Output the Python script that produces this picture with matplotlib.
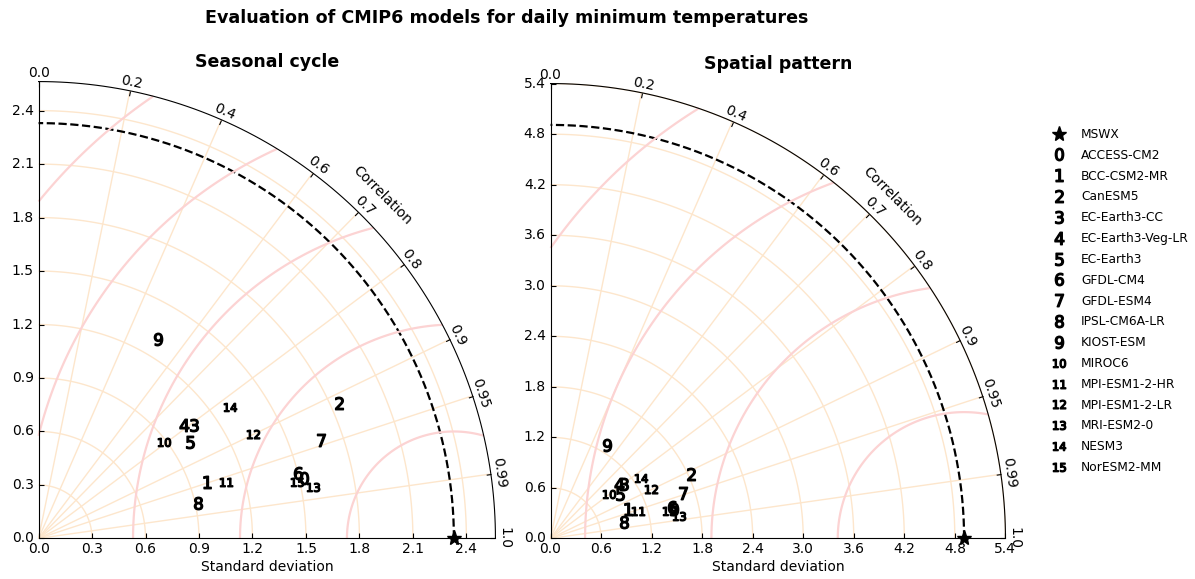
import numpy as np
import matplotlib
matplotlib.use("Agg")
import matplotlib.pyplot as plt
from matplotlib.projections import PolarAxes
import mpl_toolkits.axisartist.floating_axes as FA
import mpl_toolkits.axisartist.grid_finder as GF

# ---------------- data ----------------
models = ["ACCESS-CM2", "BCC-CSM2-MR", "CanESM5", "EC-Earth3-CC", "EC-Earth3-Veg-LR",
          "EC-Earth3", "GFDL-CM4", "GFDL-ESM4", "IPSL-CM6A-LR", "KIOST-ESM", "MIROC6",
          "MPI-ESM1-2-HR", "MPI-ESM1-2-LR", "MRI-ESM2-0", "NESM3", "NorESM2-MM"]
ref_label = "MSWX"

seasonal_ref_std = 2.33
seasonal_std = [1.530, 0.996, 1.847, 1.078, 1.033, 1.006, 1.502, 1.676,
                0.915, 1.304, 0.890, 1.098, 1.339, 1.568, 1.302, 1.486]
seasonal_corr = [0.975, 0.948, 0.912, 0.807, 0.788, 0.842, 0.970, 0.944,
                 0.976, 0.515, 0.793, 0.957, 0.899, 0.983, 0.824, 0.977]

spatial_ref_std = 4.91
spatial_std = [1.501, 0.987, 1.841, 1.083, 1.045, 0.986, 1.487, 1.658,
               0.900, 1.302, 0.870, 1.092, 1.326, 1.554, 1.289, 1.448]
spatial_corr = [0.973, 0.937, 0.909, 0.800, 0.783, 0.842, 0.968, 0.945,
                0.975, 0.519, 0.791, 0.956, 0.895, 0.985, 0.829, 0.974]

corr_ticks = [0, 0.2, 0.4, 0.6, 0.7, 0.8, 0.9, 0.95, 0.99, 1]
seasonal_std_ticks = [0.0, 0.3, 0.6, 0.9, 1.2, 1.5, 1.8, 2.1, 2.4]
spatial_std_ticks = [0.0, 0.6, 1.2, 1.8, 2.4, 3.0, 3.6, 4.2, 4.8, 5.4]
seasonal_rms_levels = [0.6, 1.2, 1.8, 2.4, 3.0]
spatial_rms_levels = [1.5, 3.0, 4.5, 6.0]

W, H = 1195, 579
fig = plt.figure(figsize=(W / 100, H / 100), dpi=100)

GRID_COLOR = "#fde6cc"
RMS_COLOR = "#fcd3d3"


def taylor(rect, refstd, std_ticks, stds, corrs, levels, title):
    tr = PolarAxes.PolarTransform()
    rlocs = np.array(corr_ticks)
    tlocs = np.arccos(rlocs)
    gl1 = GF.FixedLocator(tlocs)
    tf1 = GF.DictFormatter(dict(zip(tlocs, map(str, rlocs))))
    slocs = np.array(std_ticks)
    gl2 = GF.FixedLocator(slocs)
    tf2 = GF.DictFormatter(dict(zip(slocs, ["%.1f" % v for v in slocs])))
    tmax = np.pi / 2
    smax = 1.1 * refstd
    gh = FA.GridHelperCurveLinear(tr, extremes=(0, tmax, 0, smax),
                                  grid_locator1=gl1, tick_formatter1=tf1,
                                  grid_locator2=gl2, tick_formatter2=tf2)
    ax = FA.FloatingAxes(fig, rect, grid_helper=gh)
    fig.add_axes(ax)
    ax.axis["top"].set_axis_direction("bottom")
    ax.axis["top"].toggle(ticklabels=True, label=True)
    ax.axis["top"].major_ticklabels.set_axis_direction("top")
    ax.axis["top"].label.set_axis_direction("top")
    ax.axis["top"].label.set_text("Correlation")
    ax.axis["left"].set_axis_direction("bottom")
    ax.axis["left"].label.set_text("Standard deviation")
    ax.axis["right"].set_axis_direction("top")
    ax.axis["right"].toggle(ticklabels=True)
    ax.axis["right"].major_ticklabels.set_axis_direction("left")
    ax.axis["bottom"].set_visible(False)
    ax.grid(True, color=GRID_COLOR, lw=1.0)
    ax.set_title(title, fontsize=12.5, fontweight="bold", pad=7)

    aux = ax.get_aux_axes(tr)
    star, = aux.plot([0], [refstd], "k*", ls="", ms=11, label=ref_label,
                     clip_on=False, zorder=5)
    t = np.linspace(0, tmax, 200)
    aux.plot(t, np.zeros_like(t) + refstd, "k--", lw=1.6)

    rs, ts = np.meshgrid(np.linspace(0, smax, 200), np.linspace(0, tmax, 200))
    rms = np.sqrt(refstd ** 2 + rs ** 2 - 2 * refstd * rs * np.cos(ts))
    aux.contour(ts, rs, rms, levels, colors=RMS_COLOR, linewidths=1.6)

    handles = [star]
    for i, (s, c) in enumerate(zip(stds, corrs)):
        h, = aux.plot(np.arccos(c), s, marker="$%d$" % i, ms=9, ls="",
                      mfc="k", mec="k", label=models[i], zorder=6)
        handles.append(h)
    return ax, handles


ax1, handles = taylor([34 / W, 36 / H, 466 / W, 466 / H], seasonal_ref_std,
                      seasonal_std_ticks, seasonal_std, seasonal_corr,
                      seasonal_rms_levels, "Seasonal cycle")
ax2, _ = taylor([546 / W, 36 / H, 464 / W, 464 / H], spatial_ref_std,
                spatial_std_ticks, spatial_std, spatial_corr,
                spatial_rms_levels, "Spatial pattern")

fig.legend(handles, [h.get_label() for h in handles], numpoints=1,
           prop=dict(size=8.8), loc="center left", frameon=False,
           labelspacing=0.64, bbox_to_anchor=(1036 / W, 1 - 301 / H))

fig.text(507 / W, 1 - 18 / H, "Evaluation of CMIP6 models for daily minimum temperatures",
         ha="center", va="center", fontsize=12.6, fontweight="bold")

fig.savefig("out.png", dpi=100)
